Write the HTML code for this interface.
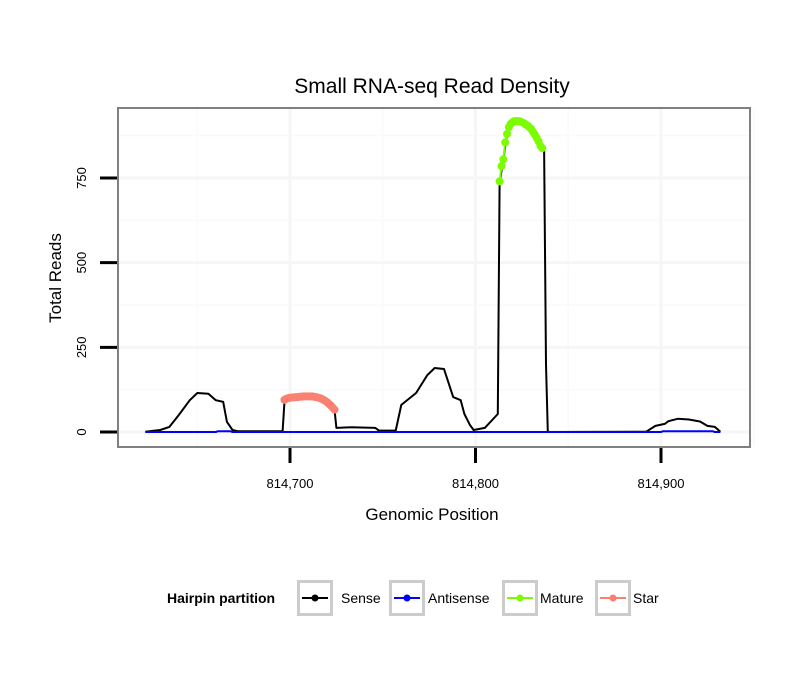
<!DOCTYPE html>
<html><head><meta charset="utf-8"><style>
body{margin:0;background:#fff;}
svg{display:block;font-family:"Liberation Sans",Arial,sans-serif;}
</style></head><body>
<svg id="chart" width="810" height="690">
<rect x="0" y="0" width="810" height="690" fill="#fff"/>
<text x="432" y="93" font-size="21" text-anchor="middle">Small RNA-seq Read Density</text>
<g id="grid"></g>
<g id="series"></g>
<rect x="118" y="108" width="632" height="339" fill="none" stroke="#808080" stroke-width="2"/>
<g id="axes"></g>
<text x="432" y="520" font-size="17" text-anchor="middle">Genomic Position</text>
<text transform="translate(61,278) rotate(-90)" font-size="17" text-anchor="middle">Total Reads</text>
<g id="legend">
<text x="167" y="603" font-size="14" font-weight="bold">Hairpin partition</text>
</g>
</svg>
<script>
const xTicks=[814700,814800,814900];
const xTickLabels=["814,700","814,800","814,900"];
const yTicks=[0,250,500,750];
const yTickLabels=["0","250","500","750"];
const senseX=[814622,814630,814635,814640,814646,814650,814656,814660,814664,814666,814669,814672,814696,814697,814700,814705,814710,814715,814720,814724,814725,814733,814746,814748,814757,814760,814768,814774,814778,814783,814788,814792,814794,814797,814799,814805,814812,814813,814815,814817,814820,814823,814828,814831,814834,814836,814837,814838,814839,814892,814897,814902,814904,814909,814915,814921,814925,814929,814932];
const senseY=[1,6,15,50,94,115,113,94,89,30,6,2,2,86,101,104,105,104,95,66,12,14,12,4,4,80,115,168,189,186,103,94,53,21,6,12,53,735,805,880,915,918,908,886,858,840,840,200,0,1,18,24,32,39,37,31,18,15,1];
const antiX=[814622,814660,814661,814668,814669,814900,814901,814928,814929,814932];
const antiY=[0,0,2,2,0,0,2,2,0,0];
const matureX=[814813,814814,814815,814816,814817,814818,814819,814820,814821,814822,814823,814824,814825,814826,814827,814828,814829,814830,814831,814832,814833,814834,814835,814836];
const matureY=[740,785,805,855,880,900,910,915,918,918,918,917,915,912,908,905,900,895,886,878,868,858,845,838];
const starX=[814697,814698,814699,814700,814701,814702,814703,814704,814705,814706,814707,814708,814709,814710,814711,814712,814713,814714,814715,814716,814717,814718,814719,814720,814721,814722,814723,814724];
const starY=[95,98,100,101,102,102,103,103,104,104,105,105,105,105,105,105,104,103,102,100,98,95,92,88,83,78,72,66];

const NS="http://www.w3.org/2000/svg";
const xs=v=>290+(v-814700)*1.855;
const ys=v=>432-v*0.3387;
function mk(tag,attrs,parent){const e=document.createElementNS(NS,tag);for(const k in attrs)e.setAttribute(k,attrs[k]);parent.appendChild(e);return e;}
const grid=document.getElementById('grid'),axes=document.getElementById('axes'),series=document.getElementById('series'),legend=document.getElementById('legend');
for(let i=0;i<xTicks.length+1;i++){const v=xTicks[0]-50+i*100;const g=mk('line',{x1:xs(v),x2:xs(v),y1:109,y2:446,stroke:'#fafafa','stroke-width':1.5},grid);

}
for(let i=0;i<yTicks.length;i++){const v=yTicks[i]+125;const g=mk('line',{x1:119,x2:749,y1:ys(v),y2:ys(v),stroke:'#fafafa','stroke-width':1.5},grid);

}
xTicks.forEach((v,i)=>{const g=mk('line',{x1:xs(v),x2:xs(v),y1:109,y2:446,stroke:'#f6f6f6','stroke-width':3},grid);


const t=mk('line',{x1:xs(v),x2:xs(v),y1:448,y2:463,stroke:'#000','stroke-width':3},axes);


const l=mk('text',{x:xs(v),y:488,'font-size':13,'text-anchor':'middle'},axes);l.textContent=xTickLabels[i];

});
yTicks.forEach((v,i)=>{const g=mk('line',{x1:119,x2:749,y1:ys(v),y2:ys(v),stroke:'#f6f6f6','stroke-width':3},grid);


const t=mk('line',{x1:100,x2:117,y1:ys(v),y2:ys(v),stroke:'#000','stroke-width':3},axes);


const l=mk('text',{transform:`translate(86,${ys(v)}) rotate(-90)`,'font-size':13,'text-anchor':'middle'},axes);l.textContent=yTickLabels[i];

});
function line(X,Y,color,name,w){const d=X.map((x,i)=>(i?'L':'M')+xs(x).toFixed(1)+','+ys(Y[i]).toFixed(1)).join('');
const p=mk('path',{d:d,fill:'none',stroke:color,'stroke-width':w,'stroke-linejoin':'round'},series);

}
function dots(X,Y,color,name){X.forEach((x,i)=>{const c=mk('circle',{cx:xs(x),cy:ys(Y[i]),r:4,fill:color},series);

});}
line(senseX,senseY,'#000','sense-line',2);
line(antiX,antiY,'#0000ff','antisense-line',2);
line(starX,starY,'#fa8072','star-line',2);dots(starX,starY,'#fa8072','star-point');
line(matureX,matureY,'#7cfc00','mature-line',2);dots(matureX,matureY,'#7cfc00','mature-point');
const items=[["Sense","#000",297,341],["Antisense","#0000ff",389,428],["Mature","#7cfc00",502,540],["Star","#fa8072",595,633]];
items.forEach(it=>{const g=mk('g',{},legend);


mk('rect',{x:it[2]+1.5,y:581.5,width:33,height:33,fill:'#fff',stroke:'#cccccc','stroke-width':3},g);
mk('line',{x1:it[2]+5,x2:it[2]+31,y1:598,y2:598,stroke:it[1],'stroke-width':2},g);
mk('circle',{cx:it[2]+18,cy:598,r:3.5,fill:it[1]},g);
const t=mk('text',{x:it[3],y:603,'font-size':14},g);t.textContent=it[0];});
</script>
</body></html>
